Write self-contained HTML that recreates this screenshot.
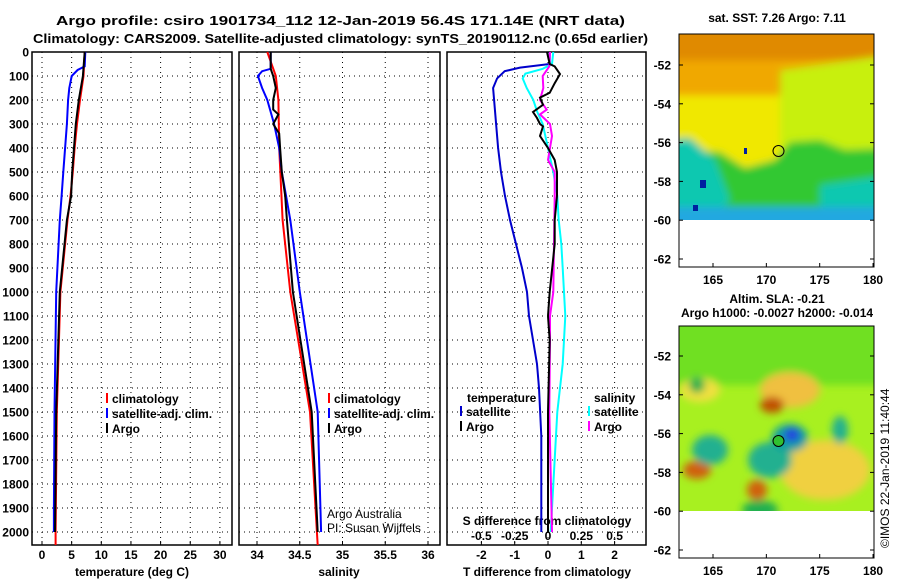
<!DOCTYPE html>
<html><head><meta charset="utf-8"><style>
html,body{margin:0;padding:0;background:#fff;}
svg{display:block;font-family:"Liberation Sans",sans-serif;}
.b{font-weight:bold;font-size:13px;}
.t{font-size:12px;font-weight:bold;}
</style></head><body>
<svg id="c" width="900" height="580" viewBox="0 0 900 580">
<defs>
<filter id="bl" filterUnits="userSpaceOnUse" x="600" y="0" width="300" height="580"><feGaussianBlur stdDeviation="4"/></filter>
<clipPath id="m1"><rect x="679" y="34" width="195" height="186"/></clipPath>
<clipPath id="m2"><rect x="679" y="326" width="195" height="185"/></clipPath>
</defs>
<text x="56" y="25" textLength="569" lengthAdjust="spacingAndGlyphs" class="b" font-size="15">Argo profile: csiro 1901734_112 12-Jan-2019 56.4S 171.14E (NRT data)</text>
<text x="33" y="43" textLength="615" lengthAdjust="spacingAndGlyphs" class="b" font-size="15">Climatology: CARS2009. Satellite-adjusted climatology: synTS_20190112.nc (0.65d earlier)</text>
<g id="maps">
<text x="777" y="22" text-anchor="middle" class="t">sat. SST: 7.26 Argo: 7.11</text>
<g clip-path="url(#m1)">
<rect x="679" y="34" width="195" height="186" fill="#f0a800"/>
<g filter="url(#bl)">
<rect x="660" y="20" width="230" height="40" fill="#e08a00"/>
<rect x="660" y="95" width="230" height="140" fill="#f0e800"/>
<polygon points="780,70 890,55 890,160 780,160" fill="#c8f010"/>
<polygon points="660,150 720,152 745,168 775,160 790,142 820,140 845,150 890,148 890,235 660,235" fill="#30c830"/>
<polygon points="660,140 690,138 715,160 730,200 700,235 660,235" fill="#10c8b0"/>
<polygon points="820,185 890,175 890,235 820,235" fill="#10c8b0"/>
<rect x="660" y="207" width="230" height="30" fill="#20a8e0"/>
</g>
<rect x="700" y="180" width="6" height="8" fill="#0020a0"/><rect x="693" y="205" width="5" height="6" fill="#0020a0"/><rect x="744" y="148" width="3" height="6" fill="#0020a0"/>
</g>
<rect x="679" y="34" width="195" height="233" fill="none" stroke="#000"/>
<circle cx="778.5" cy="151" r="5.5" fill="none" stroke="#000"/>
<text x="777" y="303" text-anchor="middle" class="t">Altim. SLA: -0.21</text>
<text x="777" y="317" text-anchor="middle" class="t">Argo h1000: -0.0027 h2000: -0.014</text>
<g clip-path="url(#m2)">
<rect x="679" y="326" width="195" height="185" fill="#a8f020"/>
<g filter="url(#bl)">
<rect x="660" y="310" width="230" height="75" fill="#70e020"/>
<ellipse cx="700" cy="390" rx="20" ry="12" fill="#f0e040"/>
<ellipse cx="790" cy="390" rx="30" ry="18" fill="#f0c040"/>
<ellipse cx="825" cy="470" rx="45" ry="30" fill="#f0d040"/>
<ellipse cx="772" cy="405" rx="12" ry="8" fill="#c05000"/>
<ellipse cx="697" cy="470" rx="14" ry="9" fill="#d06010"/>
<ellipse cx="757" cy="490" rx="10" ry="10" fill="#d06010"/>
<ellipse cx="710" cy="450" rx="18" ry="15" fill="#20b090"/>
<ellipse cx="770" cy="460" rx="22" ry="18" fill="#20b090"/>
<ellipse cx="790" cy="438" rx="18" ry="14" fill="#10a0a0"/>
<ellipse cx="792" cy="435" rx="8" ry="7" fill="#2040e0"/>
<ellipse cx="840" cy="430" rx="8" ry="14" fill="#20b090"/>
<ellipse cx="697" cy="385" rx="8" ry="8" fill="#30b050"/>
<ellipse cx="760" cy="510" rx="18" ry="10" fill="#20b050"/>
</g>
</g>
<rect x="679" y="326" width="195" height="232" fill="none" stroke="#000"/>
<circle cx="778.5" cy="441" r="5.5" fill="#30c030" stroke="#000"/>
<text transform="translate(889,548) rotate(-90)" font-size="12">©IMOS 22-Jan-2019 11:40:44</text>
</g>
</svg>
<script>
const tDepth=[0,60,75,100,150,200,300,400,500,600,700,1000,1500,1900,2000];
const tBlue=[7.3,7.2,6.0,5.0,4.6,4.4,4.2,3.9,3.6,3.3,3.0,2.4,2.1,2.0,2.0];
const tArgoDepth=[0,100,200,300,400,500,600,700,1000,1500,2000];
const tArgo=[7.2,6.9,6.2,5.7,5.4,5.1,4.9,4.2,3.0,2.4,2.2];
const tClimDepth=[0,100,200,300,400,500,600,700,1000,1500,2000,2054];
const tClim=[7.2,7.0,6.4,5.9,5.5,5.2,4.8,4.3,3.1,2.5,2.3,2.3];
const sClimDepth=[0,100,200,400,700,1000,1500,2000,2054];
const sClim=[34.12,34.22,34.25,34.26,34.30,34.39,34.62,34.70,34.71];
const sArgoDepth=[0,70,100,150,200,240,260,300,340,400,500,600,700,1000,1500,2000];
const sArgo=[34.16,34.16,34.19,34.22,34.19,34.19,34.25,34.19,34.26,34.27,34.29,34.33,34.35,34.42,34.64,34.71];
const sBlueDepth=[0,70,80,100,150,200,300,400,500,600,700,1000,1500,2000];
const sBlue=[34.16,34.16,34.06,34.01,34.06,34.12,34.20,34.26,34.29,34.34,34.39,34.50,34.71,34.75];
const dTBlueDepth=[0,50,65,80,110,150,200,300,400,500,600,700,800,900,1000,1100,1200,1300,1400,1600,2000];
const dTBlue=[0.05,0.05,-0.84,-1.3,-1.53,-1.65,-1.62,-1.56,-1.5,-1.41,-1.29,-1.14,-0.96,-0.78,-0.63,-0.57,-0.45,-0.33,-0.27,-0.2,-0.2];
const dTArgoDepth=[0,50,60,92,130,170,190,220,250,275,300,310,350,400,450,500,600,700,800,1000,1100,1200,1500,2000];
const dTArgo=[-0.03,0.05,0.2,0.36,0.2,0.05,-0.24,-0.15,-0.45,-0.33,-0.24,-0.15,-0.24,0,0.2,0.27,0.27,0.2,0.2,0.05,0,0.05,0,0];
const dSSatDepth=[0,50,70,90,110,150,200,250,300,400,500,600,700,800,900,1000,1100,1200,1300,1500,2000];
const dSSat=[0.04,0.03,-0.04,-0.17,-0.19,-0.16,-0.11,-0.08,-0.04,0,0.04,0.07,0.08,0.1,0.11,0.12,0.13,0.12,0.11,0.07,0.02];
const dSArgoDepth=[0,60,100,150,200,240,260,300,350,400,450,500,600,800,1000,1100,1200,1500,2000];
const dSArgo=[0.015,0.01,-0.04,-0.035,-0.06,-0.01,-0.06,0.015,0.03,0.015,0,0.05,0.05,0.045,0.04,0.015,0.015,0.01,0.03];
const depthTicks=[0,100,200,300,400,500,600,700,800,900,1000,1100,1200,1300,1400,1500,1600,1700,1800,1900,2000];
const tTicks=[0,5,10,15,20,25,30];
const sTicks=[34,34.5,35,35.5,36];
const sTickLabels=["34","34.5","35","35.5","36"];
const dTTicks=[-2,-1,0,1,2];
const dSTicks=[-0.5,-0.25,0,0.25,0.5];
const dSTickLabels=["-0.5","-0.25","0","0.25","0.5"];

const NS='http://www.w3.org/2000/svg';
const svg=document.getElementById('c');
function mk(tag,attrs,parent){const e=document.createElementNS(NS,tag);for(const k in attrs)e.setAttribute(k,attrs[k]);(parent||svg).appendChild(e);return e;}
const Y0=52, KY=0.24, YB=545;
const y=d=>Y0+d*KY;
const xT=v=>42+v*5.93;
const xS=v=>257+(v-34)*85.5;
const xDT=v=>548+v*33.3;
const xDS=v=>548+v*133.2;
const panels=[[32,232],[239,440],[447,646]];

panels.forEach((p,i)=>{
  const g=mk('g',{});
  
  
  depthTicks.forEach(d=>{
    const l=mk('line',{x1:p[0],x2:p[1],y1:y(d),y2:y(d),stroke:'#000','stroke-dasharray':'1 4','stroke-width':1},g);
    
    
  });
  const vt= i==0?tTicks.map(xT): i==1?sTicks.map(xS):dTTicks.map(xDT);
  vt.forEach(x=>{
    const l=mk('line',{x1:x,x2:x,y1:Y0,y2:YB,stroke:'#000','stroke-dasharray':'1 4','stroke-width':1},g);
    
    
    const tk=mk('line',{x1:x,x2:x,y1:YB,y2:YB-4,stroke:'#000'},g);
    
    
  });
  const r=mk('rect',{x:p[0],y:Y0,width:p[1]-p[0],height:YB-Y0,fill:'none',stroke:'#000','stroke-width':1.5},g);
  
  
});
depthTicks.forEach(d=>{
  const t=mk('text',{x:29,y:y(d)+4.5,'text-anchor':'end',class:'t'});
  t.textContent=d;
  
  
});
function ticks(vals,labels,fx,yy){vals.forEach((v,i)=>{const t=mk('text',{x:fx(v),y:yy,'text-anchor':'middle',class:'t'});t.textContent=labels[i];
  
  });}
ticks(tTicks,tTicks.map(String),xT,559);
ticks(sTicks,sTickLabels,xS,559);
ticks(dTTicks,dTTicks.map(String),xDT,559);
ticks(dSTicks,dSTickLabels,xDS,540);
[['temperature (deg C)',132,'x-axis-title-temperature'],['salinity',339,'x-axis-title-salinity'],['T difference from climatology',547,'x-axis-title-t-diff']].forEach(a=>{
  const t=mk('text',{x:a[1],y:576,'text-anchor':'middle',class:'t'});t.textContent=a[0];
  
  
});
{const t=mk('text',{x:547,y:525,'text-anchor':'middle',class:'t'});t.textContent='S difference from climatology';

}

function line(ds,vs,fx,col,name){
  const pts=ds.map((d,i)=>fx(vs[i]).toFixed(1)+','+y(d).toFixed(1)).join(' ');
  const l=mk('polyline',{points:pts,fill:'none',stroke:col,'stroke-width':2});
  
  
}
line(tClimDepth,tClim,xT,'#f00','temp-climatology-line');
line(tDepth,tBlue,xT,'#00f','temp-satellite-line');
line(tArgoDepth,tArgo,xT,'#000','temp-argo-line');
line(sClimDepth,sClim,xS,'#f00','sal-climatology-line');
line(sBlueDepth,sBlue,xS,'#00f','sal-satellite-line');
line(sArgoDepth,sArgo,xS,'#000','sal-argo-line');
line(dTBlueDepth,dTBlue,xDT,'#00c','tdiff-satellite-line');
line(dSSatDepth,dSSat,xDS,'#0ff','sdiff-satellite-line');
line(dSArgoDepth,dSArgo,xDS,'#f0f','sdiff-argo-line');
line(dTArgoDepth,dTArgo,xDT,'#000','tdiff-argo-line');

function leg(x,yy,col,txt,name){
  const l=mk('line',{x1:x,x2:x,y1:yy-10,y2:yy,stroke:col,'stroke-width':2});
  
  
  const t=mk('text',{x:x+5,y:yy,class:'t','font-weight':'normal'});t.textContent=txt;
  
  
}
leg(107,403,'#f00','climatology','legend-climatology');
leg(107,418,'#00f','satellite-adj. clim.','legend-satellite');
leg(107,433,'#000','Argo','legend-argo');
leg(329,403,'#f00','climatology','legend2-climatology');
leg(329,418,'#00f','satellite-adj. clim.','legend2-satellite');
leg(329,433,'#000','Argo','legend2-argo');
{const t=mk('text',{x:467,y:402,class:'t','font-weight':'normal'});t.textContent='temperature';

}
leg(461,416,'#00c','satellite','legend3-t-satellite');
leg(461,431,'#000','Argo','legend3-t-argo');
{const t=mk('text',{x:594,y:402,class:'t','font-weight':'normal'});t.textContent='salinity';

}
leg(589,416,'#0ff','satellite','legend3-s-satellite');
leg(589,431,'#f0f','Argo','legend3-s-argo');
[['Argo Australia',518,'credit-argo-australia'],['PI: Susan Wijffels',532,'credit-pi']].forEach(a=>{
  const t=mk('text',{x:327,y:a[1],'font-size':12});t.textContent=a[0];
  
  
});
const latY1=l=>65+(-52-l)*19.4, latY2=l=>356+(-52-l)*19.4, lonX=l=>713+(l-165)*10.67;
[-52,-54,-56,-58,-60,-62].forEach(l=>{
  [[latY1,'sst'],[latY2,'sla']].forEach(f=>{
    const t=mk('text',{x:671,y:f[0](l)+4.5,'text-anchor':'end',class:'t'});t.textContent=l;
    
    
    mk('line',{x1:679,x2:683,y1:f[0](l),y2:f[0](l),stroke:'#000'});
    mk('line',{x1:870,x2:874,y1:f[0](l),y2:f[0](l),stroke:'#000'});
  });
});
[165,170,175,180].forEach(l=>{
  [[284,267,'sst'],[575,558,'sla']].forEach(f=>{
    const t=mk('text',{x:lonX(l),y:f[0],'text-anchor':'middle',class:'t'});t.textContent=l;
    
    
    mk('line',{x1:lonX(l),x2:lonX(l),y1:f[1],y2:f[1]-4,stroke:'#000'});
  });
});
</script>
</body></html>
